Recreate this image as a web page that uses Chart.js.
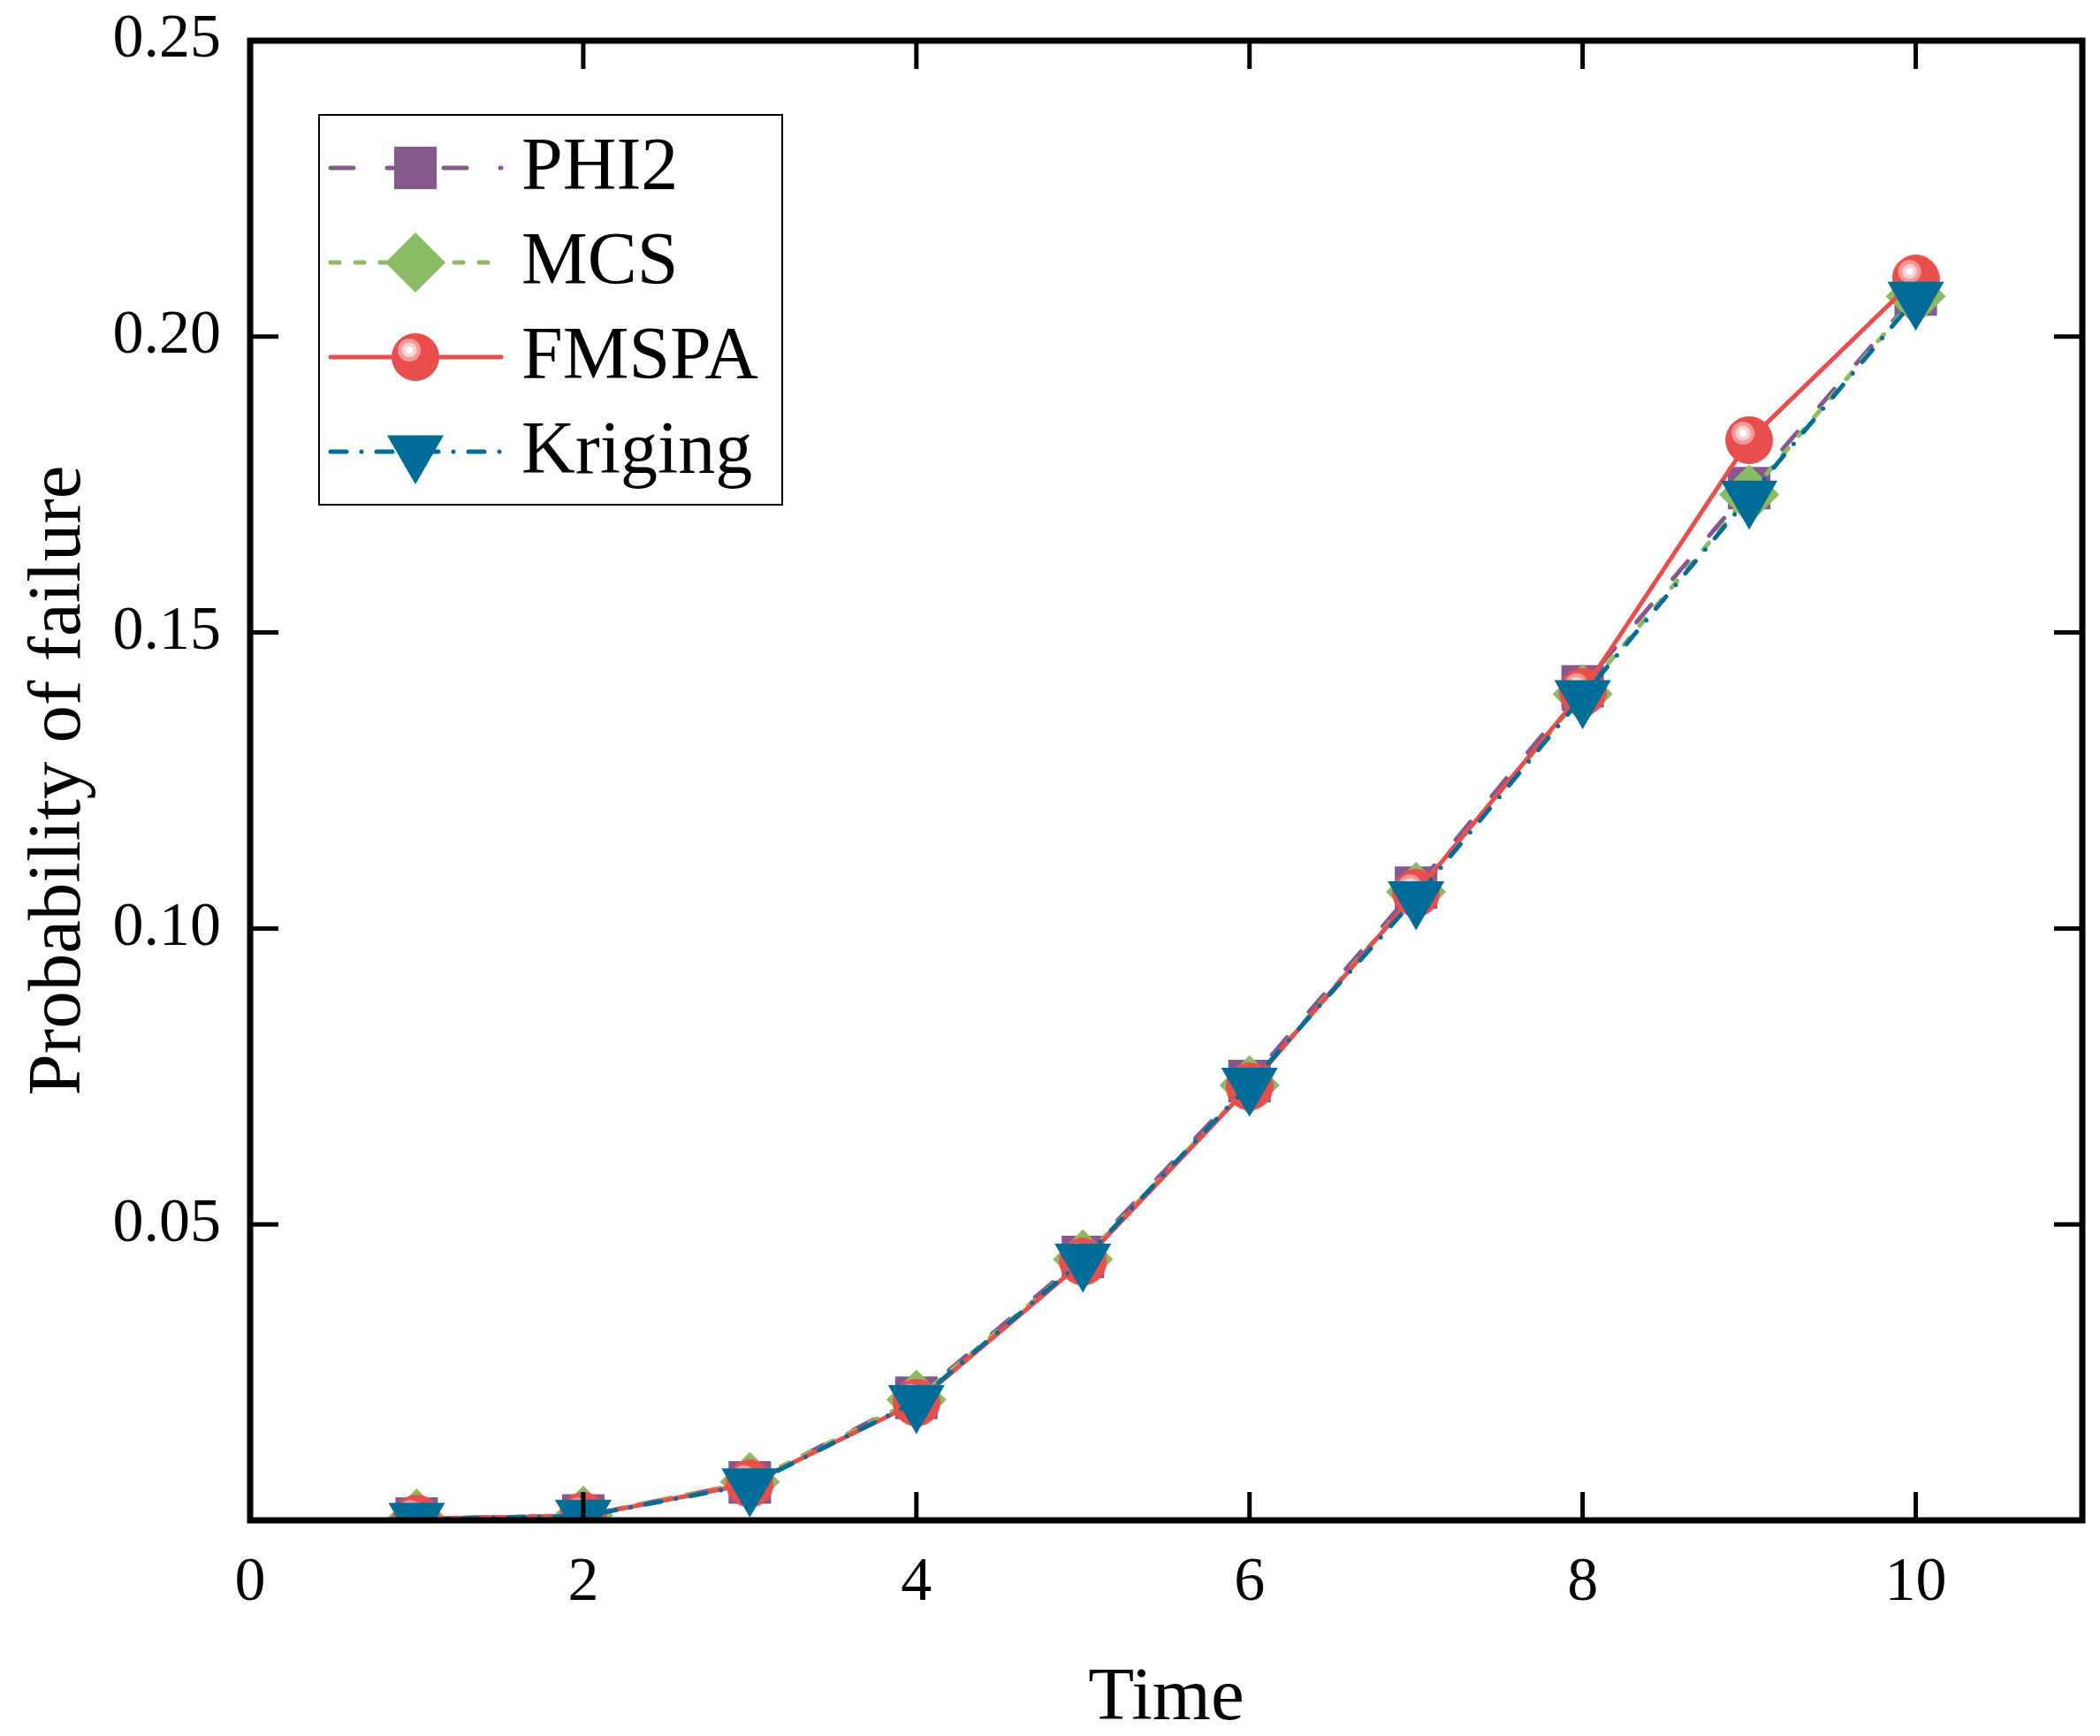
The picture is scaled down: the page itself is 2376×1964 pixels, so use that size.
<!DOCTYPE html>
<html>
<head>
<meta charset="utf-8">
<script src="https://cdn.jsdelivr.net/npm/chart.js@4.4.1/dist/chart.umd.min.js"></script>
<style>
  html, body { margin: 0; padding: 0; background: #fff; overflow: hidden; }
  #pf { display: block; width: 2376px; height: 1964px; }
</style>
</head>
<body>
<canvas id="pf" width="2376" height="1964"></canvas>
<script>
// values
const times   = [1, 2, 3, 4, 5, 6, 7, 8, 9, 10];
const phi2    = [0.0003, 0.0008, 0.0064, 0.0207, 0.0445, 0.0742, 0.1069, 0.1409, 0.1744, 0.2071];
const mcs     = [0.0003, 0.0008, 0.0065, 0.0204, 0.0441, 0.0735, 0.1062, 0.1396, 0.1733, 0.2068];
const fmspa   = [0.0003, 0.0007, 0.0062, 0.0199, 0.0437, 0.0733, 0.1060, 0.1400, 0.1825, 0.2098];
const kriging = [0.0002, 0.0007, 0.0060, 0.0201, 0.0440, 0.0737, 0.1052, 0.1392, 0.1729, 0.2065];
const xTicks  = [0, 2, 4, 6, 8, 10];
const yTicks  = [0.05, 0.10, 0.15, 0.20, 0.25];

const SERIF = '"Liberation Serif", "Times New Roman", serif';

// red "sphere" marker with a glossy highlight
function makeSphere(r) {
    const c = document.createElement('canvas');
    c.width = c.height = 2 * r;
    const g = c.getContext('2d');
    g.fillStyle = '#E84E4C';
    g.beginPath(); g.arc(r, r, r, 0, Math.PI * 2); g.fill();
    const hx = r - 7, hy = r - 8;
    [[13, '#F29A9A'], [8.5, '#FAD0D0'], [4, '#FFFFFF']].forEach(function (s) {
        g.fillStyle = s[1];
        g.beginPath(); g.arc(hx, hy, s[0], 0, Math.PI * 2); g.fill();
    });
    return c;
}

function pts(arr) {
    return times.map(function (t, i) { return { x: t, y: arr[i] }; });
}

const datasets = [
    { label: 'PHI2', data: pts(phi2), borderColor: '#87588F', backgroundColor: '#87588F',
      borderDash: [26, 38], pointStyle: 'rect', pointRadius: 34, order: 4 },
    { label: 'MCS', data: pts(mcs), borderColor: '#8DBB65', backgroundColor: '#8DBB65',
      borderDash: [10, 18], pointStyle: 'rectRot', pointRadius: 34, order: 3 },
    { label: 'FMSPA', data: pts(fmspa), borderColor: '#E84E4C', backgroundColor: '#E84E4C',
      borderDash: [], pointStyle: makeSphere(27), pointRadius: 27, order: 2 },
    { label: 'Kriging', data: pts(kriging), borderColor: '#006D98', backgroundColor: '#006D98',
      borderDash: [18, 17, 0, 17], pointStyle: 'triangle', pointRotation: 180, pointRadius: 37, order: 1 }
];
datasets.forEach(function (d) {
    d.borderWidth = 5;
    d.borderCapStyle = 'round';
    d.pointBorderWidth = 0;
    d.pointHoverRadius = d.pointRadius;
    d.tension = 0;
});

// keep the plot box where the figure has it: no extra room for label overflow
function noOverflow(s) {
    s.paddingTop = 0; s.paddingBottom = 0;
    s.paddingLeft = 0; s.paddingRight = 0;
}

// box + inward ticks on all four sides
const framePlugin = {
    id: 'frame',
    afterDatasetsDraw: function (chart) {
        const ctx = chart.ctx, a = chart.chartArea;
        const xs = chart.scales.x, ys = chart.scales.y;
        const tl = 32;
        ctx.save();
        ctx.strokeStyle = '#000';
        ctx.lineWidth = 5;
        ctx.beginPath();
        xTicks.forEach(function (v) {
            const px = xs.getPixelForValue(v);
            ctx.moveTo(px, a.bottom); ctx.lineTo(px, a.bottom - tl);
            ctx.moveTo(px, a.top); ctx.lineTo(px, a.top + tl);
        });
        yTicks.forEach(function (v) {
            const py = ys.getPixelForValue(v);
            ctx.moveTo(a.left, py); ctx.lineTo(a.left + tl, py);
            ctx.moveTo(a.right, py); ctx.lineTo(a.right - tl, py);
        });
        ctx.stroke();
        ctx.lineWidth = 7;
        ctx.strokeRect(a.left, a.top, a.right - a.left, a.bottom - a.top);
        ctx.restore();
    }
};

// legend box in the upper left of the plot
const legendPlugin = {
    id: 'boxLegend',
    afterDraw: function (chart) {
        const ctx = chart.ctx;
        const box = { x: 361, y: 130, w: 524, h: 441 };
        const rowY = [190, 297, 404, 511];
        ctx.save();
        ctx.fillStyle = '#fff';
        ctx.fillRect(box.x, box.y, box.w, box.h);
        ctx.strokeStyle = '#000';
        ctx.lineWidth = 2;
        ctx.strokeRect(box.x, box.y, box.w, box.h);
        chart.data.datasets.forEach(function (d, i) {
            const y = rowY[i];
            ctx.save();
            ctx.strokeStyle = d.borderColor;
            ctx.lineWidth = d.borderWidth;
            ctx.lineCap = 'round';
            ctx.setLineDash(d.borderDash);
            ctx.beginPath();
            ctx.moveTo(374, y); ctx.lineTo(567, y);
            ctx.stroke();
            ctx.restore();
            ctx.fillStyle = d.backgroundColor;
            Chart.helpers.drawPoint(ctx, {
                pointStyle: d.pointStyle, rotation: d.pointRotation || 0,
                radius: d.pointRadius, borderWidth: 0
            }, 470, y);
            ctx.fillStyle = '#000';
            ctx.font = '84px ' + SERIF;
            ctx.textAlign = 'left';
            ctx.textBaseline = 'middle';
            ctx.fillText(d.label, 590, y + 2);
        });
        ctx.restore();
    }
};

new Chart(document.getElementById('pf'), {
    type: 'line',
    data: { datasets: datasets },
    options: {
        responsive: false,
        devicePixelRatio: 1,
        animation: false,
        events: [],
        layout: { autoPadding: false, padding: { top: 46, right: 20, left: 0, bottom: 0 } },
        plugins: { legend: { display: false }, tooltip: { enabled: false } },
        scales: {
            x: {
                type: 'linear', min: 0, max: 11,
                grid: { display: false }, border: { display: false },
                afterBuildTicks: function (s) { s.ticks = xTicks.map(function (v) { return { value: v }; }); },
                afterFit: function (s) { s.height = 244; noOverflow(s); },
                ticks: { color: '#000', padding: 22, font: { family: SERIF, size: 70 }, maxRotation: 0 },
                title: { display: true, text: 'Time', color: '#000',
                         font: { family: SERIF, size: 85 }, padding: { top: 0, bottom: -10 } }
            },
            y: {
                type: 'linear', min: 0, max: 0.25,
                grid: { display: false }, border: { display: false },
                afterBuildTicks: function (s) { s.ticks = yTicks.map(function (v) { return { value: v }; }); },
                afterFit: function (s) { s.width = 283; noOverflow(s); },
                ticks: { color: '#000', padding: 25, font: { family: SERIF, size: 70 },
                         callback: function (v) { return Number(v).toFixed(2); } },
                title: { display: true, text: 'Probability of failure', color: '#000',
                         font: { family: SERIF, size: 85 }, padding: { top: 17, bottom: 0 } }
            }
        }
    },
    plugins: [framePlugin, legendPlugin]
});
</script>
</body>
</html>
